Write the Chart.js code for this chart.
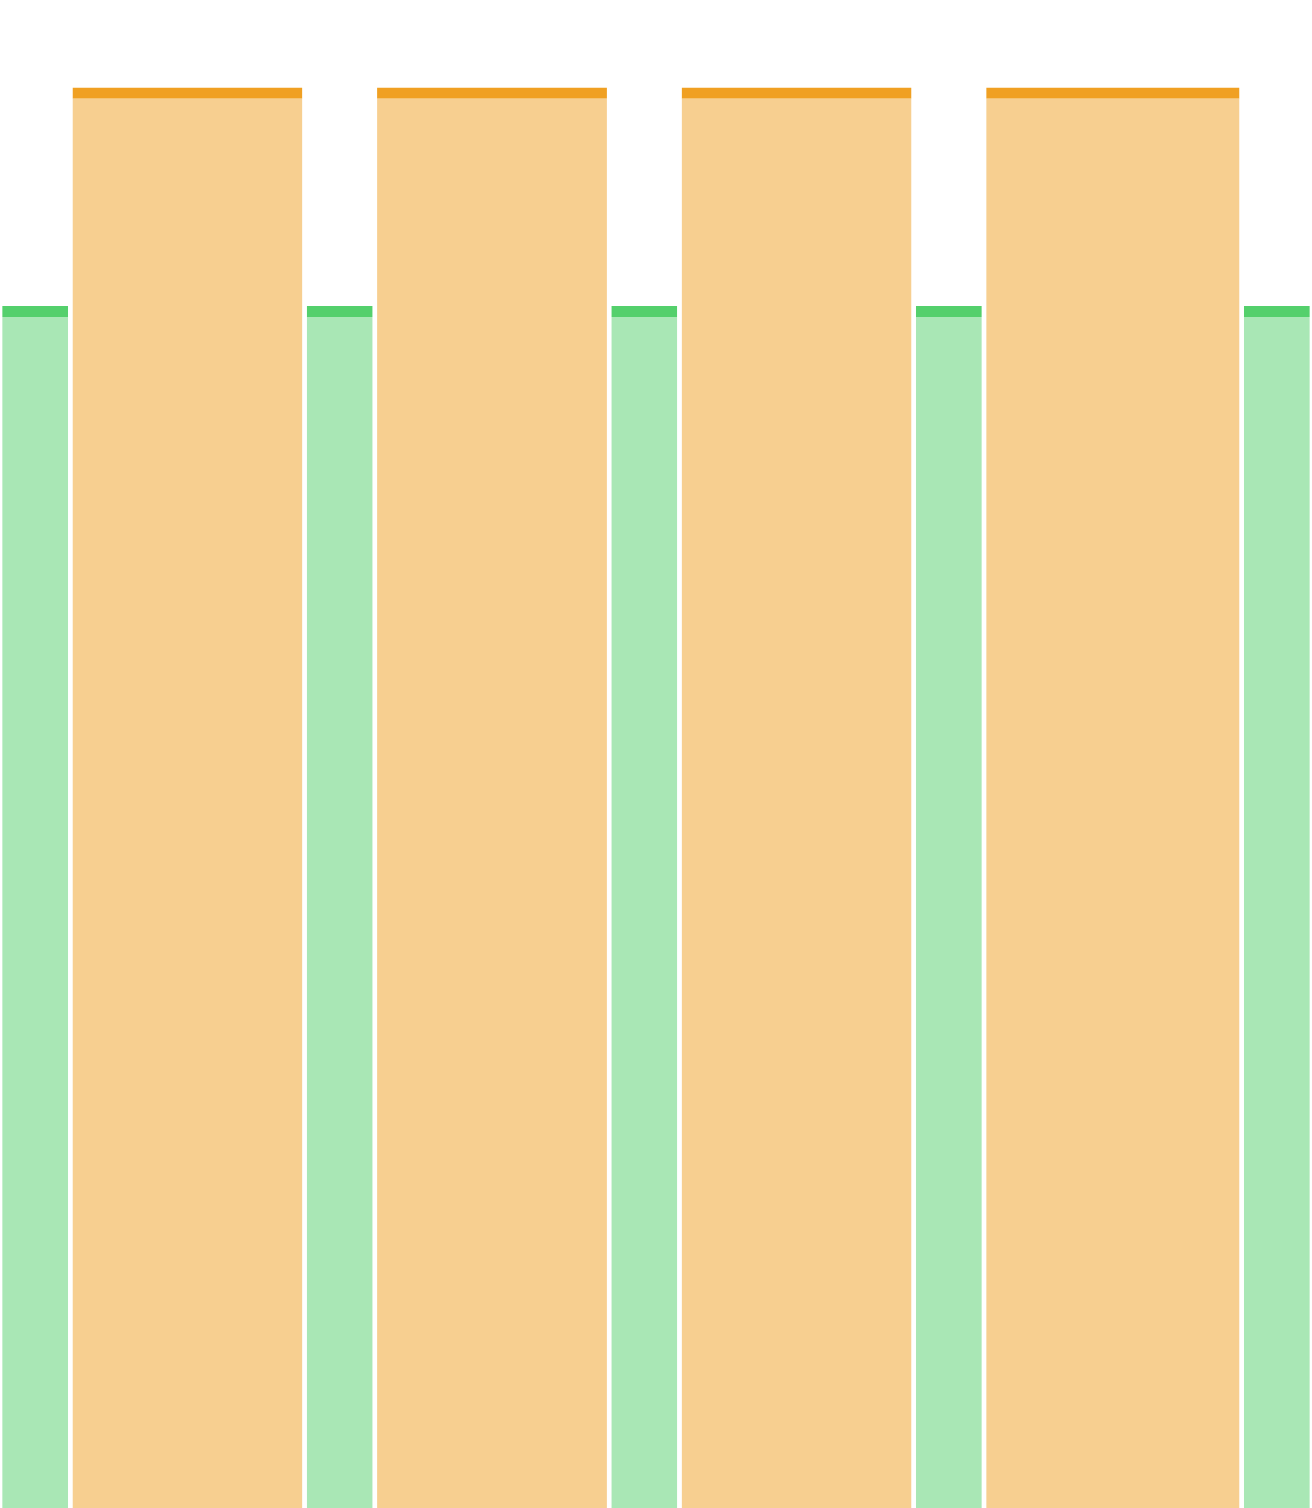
<!DOCTYPE html>
<html>
<head>
<meta charset="utf-8">
<script src="https://cdn.jsdelivr.net/npm/chart.js@4"></script>
<style>
  html, body { margin: 0; padding: 0; background: #ffffff; }
  #wrap { width: 1312px; height: 1508px; }
</style>
</head>
<body>
<div id="wrap"><canvas id="barChart"></canvas></div>
<script>
// Segment order, left to right
const segments = ["G1", "O1", "G2", "O2", "G3", "O3", "G4", "O4", "G5"];
// Width of each segment in x units
const segmentWidths = [3, 10, 3, 10, 3, 10, 3, 11, 3];
// Heights
const greenValues = [79.7, 79.7, 79.7, 79.7, 79.7];
const orangeValues = [94.2, 94.2, 94.2, 94.2];
const yMax = 100;

// Start and end of every segment along the x axis
const starts = [];
const ends = [];
let pos = 0;
segmentWidths.forEach(w => {
    starts.push(pos);
    ends.push(pos + w);
    pos += w;
});
const xMax = pos;

// Green bars sit on even segments, orange on odd ones
const greenIdx = segments.map((s, i) => i).filter(i => i % 2 === 0);
const orangeIdx = segments.map((s, i) => i).filter(i => i % 2 === 1);

function makePoints(idx, values) {
    return idx.map((seg, k) => ({ x: (starts[seg] + ends[seg]) / 2, y: values[k] }));
}

// Resize bars so each one spans its own segment on the x scale
const segmentWidthPlugin = {
    id: "segmentWidth",
    afterDatasetsUpdate(chart) {
        const xScale = chart.scales.x;
        const gap = 2.2;
        [greenIdx, orangeIdx].forEach((idx, d) => {
            const meta = chart.getDatasetMeta(d);
            meta.data.forEach((bar, k) => {
                const left = xScale.getPixelForValue(starts[idx[k]]);
                const right = xScale.getPixelForValue(ends[idx[k]]);
                bar.x = (left + right) / 2;
                bar.width = right - left - gap * 2;
            });
        });
    }
};

const ctx = document.getElementById("barChart").getContext("2d");
new Chart(ctx, {
    type: "bar",
    data: {
        datasets: [
            {
                label: "Green",
                data: makePoints(greenIdx, greenValues),
                backgroundColor: "rgba(84, 208, 108, 0.5)",
                borderColor: "rgb(84, 208, 108)",
                borderWidth: { top: 11, right: 0, bottom: 0, left: 0 },
                borderSkipped: false,
                grouped: false
            },
            {
                label: "Orange",
                data: makePoints(orangeIdx, orangeValues),
                backgroundColor: "rgba(240, 160, 34, 0.5)",
                borderColor: "rgb(240, 160, 34)",
                borderWidth: { top: 11, right: 0, bottom: 0, left: 0 },
                borderSkipped: false,
                grouped: false
            }
        ]
    },
    options: {
        responsive: true,
        maintainAspectRatio: false,
        animation: false,
        layout: { padding: 0 },
        scales: {
            x: { type: "linear", min: 0, max: xMax, offset: false, display: false },
            y: { min: 0, max: yMax, display: false }
        },
        plugins: {
            legend: { display: false },
            tooltip: { enabled: false }
        }
    },
    plugins: [segmentWidthPlugin]
});
</script>
</body>
</html>
